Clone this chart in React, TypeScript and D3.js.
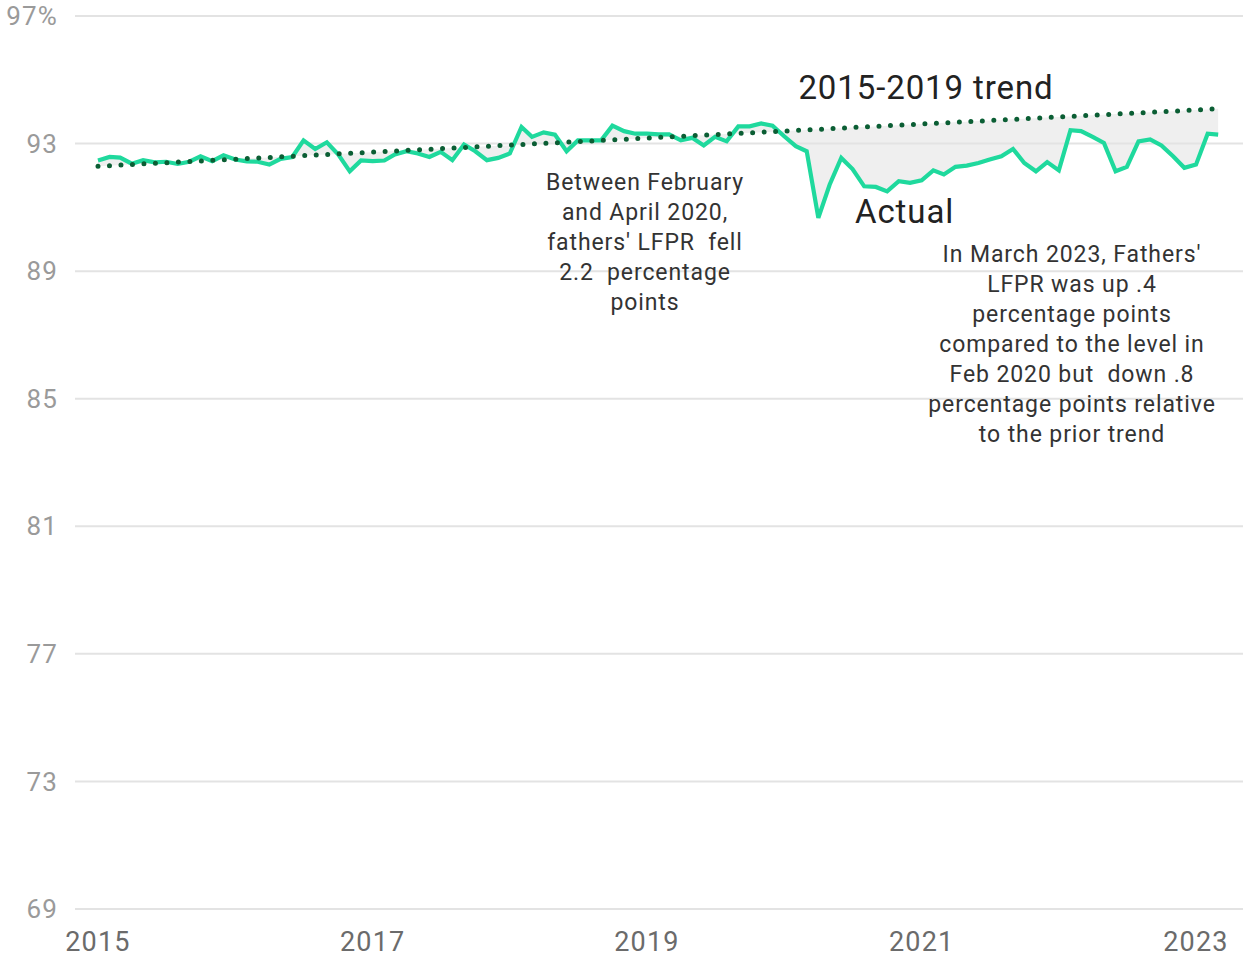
import React from "react";
import * as d3 from "d3";

const START_YEAR = 2015;
const actual: number[] = [
  // 2015
  92.47, 92.58, 92.56, 92.37, 92.48, 92.41, 92.43, 92.36, 92.43, 92.6, 92.45, 92.63,
  // 2016
  92.5, 92.44, 92.43, 92.34, 92.52, 92.58, 93.1, 92.83, 93.04, 92.66, 92.13, 92.47,
  // 2017
  92.45, 92.47, 92.66, 92.76, 92.69, 92.58, 92.74, 92.48, 92.97, 92.76, 92.48, 92.55,
  // 2018
  92.69, 93.52, 93.21, 93.35, 93.28, 92.76, 93.1, 93.1, 93.1, 93.56, 93.39, 93.31,
  // 2019
  93.31, 93.29, 93.29, 93.1, 93.18, 92.94, 93.21, 93.07, 93.54, 93.54, 93.63, 93.56,
  // 2020
  93.23, 92.92, 92.76, 90.67, 91.71, 92.55, 92.2, 91.66, 91.64, 91.5, 91.82, 91.77,
  // 2021
  91.85, 92.16, 92.03, 92.27, 92.31, 92.39, 92.5, 92.6, 92.83, 92.39, 92.13, 92.42,
  // 2022
  92.16, 93.42, 93.39, 93.21, 93.02, 92.13, 92.27, 93.07, 93.13, 92.94, 92.6, 92.24,
  // 2023
  92.34, 93.31, 93.28,
];
const trendEnds: [number, number] = [92.29, 94.09];
const yTicks = [69, 73, 77, 81, 85, 89, 93, 97];
const xTickYears = [2015, 2017, 2019, 2021, 2023];
const note1 = ["Between February", "and April 2020,", "fathers' LFPR  fell", "2.2  percentage", "points"];
const note2 = [
  "In March 2023, Fathers'",
  "LFPR was up .4",
  "percentage points",
  "compared to the level in",
  "Feb 2020 but  down .8",
  "percentage points relative",
  "to the prior trend",
];

const W = 1254;
const H = 959;
const FONT = "Roboto, 'Noto Sans', sans-serif";

export default function App() {
  const dateOf = (i: number) => new Date(START_YEAR, i, 1);
  const x = d3
    .scaleTime()
    .domain([new Date(2015, 0, 1), new Date(2023, 0, 1)])
    .range([98, 1196]);
  const y = d3.scaleLinear().domain([69, 97]).range([909, 16]);
  const n = actual.length;
  const trend = (i: number) => trendEnds[0] + ((trendEnds[1] - trendEnds[0]) * i) / (n - 1);
  const idx = d3.range(n);

  const lineGen = d3
    .line<number>()
    .x((i) => x(dateOf(i)))
    .y((i) => y(actual[i]));
  const trendGen = d3
    .line<number>()
    .x((i) => x(dateOf(i)))
    .y((i) => y(trend(i)));
  const areaGen = d3
    .area<number>()
    .x((i) => x(dateOf(i)))
    .y0((i) => y(trend(i)))
    .y1((i) => y(actual[i]));

  const noteStyle = { whiteSpace: "pre" as const };

  return (
    <svg
      width={W}
      height={H}
      style={{ position: "absolute", left: 0, top: 0, background: "#fff" }}
      fontFamily={FONT}
    >
      <path d={areaGen(idx) || ""} fill="#efefef" />
      {yTicks.map((t) => (
        <g key={t}>
          <line x1={75} x2={1243} y1={y(t)} y2={y(t)} stroke="#e3e3e3" strokeWidth={2} />
          <text
            x={58}
            y={y(t)}
            dy="0.35em"
            textAnchor="end"
            fontSize={26}
            letterSpacing={1.2}
            fill="#9a9a9a"
          >
            {t === 97 ? `${t}%` : t}
          </text>
        </g>
      ))}
      {note1.map((s, i) => (
        <text
          key={i}
          x={645}
          y={182 + i * 30}
          dy="0.35em"
          textAnchor="middle"
          fontSize={23}
          letterSpacing={0.9}
          fill="#333"
          style={noteStyle}
        >
          {s}
        </text>
      ))}
      {note2.map((s, i) => (
        <text
          key={i}
          x={1072}
          y={254 + i * 30}
          dy="0.35em"
          textAnchor="middle"
          fontSize={23}
          letterSpacing={0.9}
          fill="#333"
          style={noteStyle}
        >
          {s}
        </text>
      ))}
      {xTickYears.map((yr) => (
        <text
          key={yr}
          x={x(new Date(yr, 0, 1))}
          y={942}
          dy="0.35em"
          textAnchor="middle"
          fontSize={27}
          letterSpacing={1.2}
          fill="#6b6b6b"
        >
          {yr}
        </text>
      ))}
      <path
        d={lineGen(idx) || ""}
        fill="none"
        stroke="#1fd99d"
        strokeWidth={4.2}
        strokeLinejoin="miter"
      />
      <path
        d={trendGen([0, n - 1]) || ""}
        fill="none"
        stroke="#0b5e34"
        strokeWidth={5}
        strokeLinecap="round"
        strokeDasharray="0 11.5"
      />
      <text x={926} y={87} dy="0.35em" textAnchor="middle" fontSize={33} letterSpacing={0.9} fill="#222">
        2015-2019 trend
      </text>
      <text x={855} y={211} dy="0.35em" textAnchor="start" fontSize={33} letterSpacing={0.9} fill="#222">
        Actual
      </text>
    </svg>
  );
}
